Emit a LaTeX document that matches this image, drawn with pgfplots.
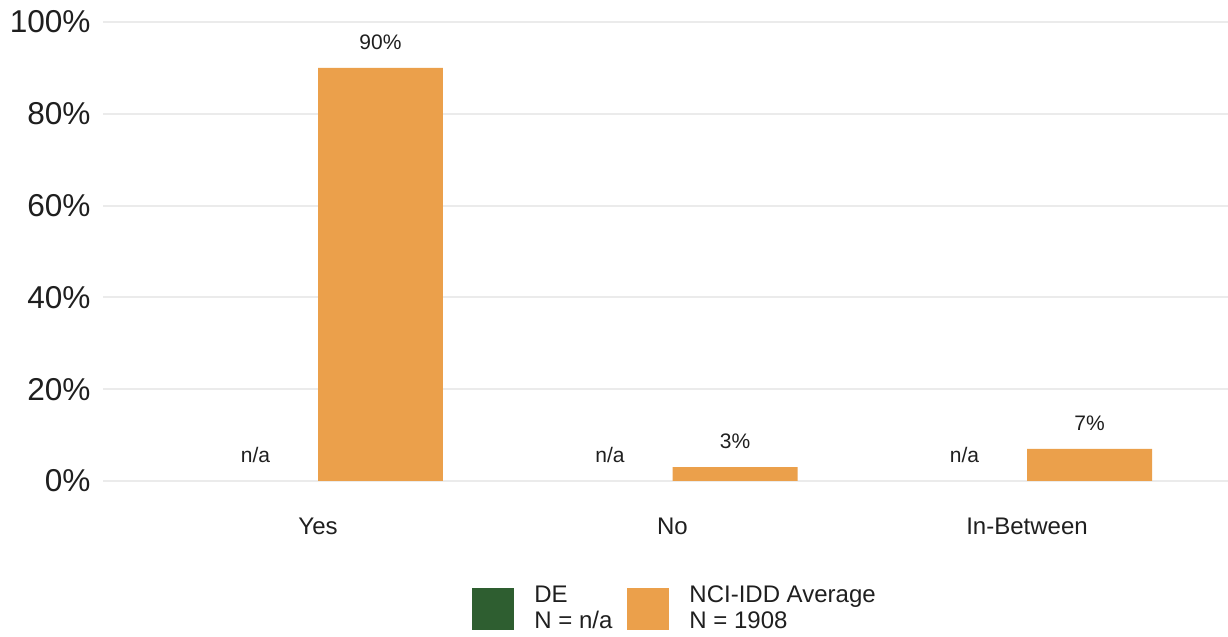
\documentclass[border=0pt]{standalone}
\usepackage{fontspec}
\setmainfont{Liberation Sans}
\usepackage{pgfplots}
\pgfplotsset{compat=1.18}
\definecolor{deGreen}{HTML}{2E5E30}
\definecolor{nciOrange}{HTML}{EBA04B}
\definecolor{gridGrey}{HTML}{EBEBEB}
\definecolor{txt}{HTML}{1F1F1F}
\pgfplotsset{sqlegend/.style={legend image code/.code={\fill[##1] (0pt,-10.5pt) rectangle (21pt,10.5pt);}},
  delegend/.style={legend image code/.code={\fill[deGreen] (0pt,-10.5pt) rectangle (21pt,10.5pt);}}}
\begin{document}
\begin{tikzpicture}
\useasboundingbox (-51.5pt,-78pt) rectangle (562.5pt,240.5pt);
\begin{axis}[
  at={(0pt,0pt)}, anchor=south west,
  width=562.5pt, height=229.5pt, scale only axis,
  xmin=-0.6065, xmax=2.567, ymin=0, ymax=100,
  ybar, bar width=0.3526,
  axis line style={draw=none},
  major tick length=0pt,
  xtick={0,1,2}, xticklabels={Yes,No,In-Between},
  ytick={0,20,...,100}, yticklabels={0\%,20\%,40\%,60\%,80\%,100\%},
  ymajorgrids, grid style={gridGrey, line width=1pt},
  xticklabel style={font=\fontsize{12}{14}\selectfont, text=txt, inner sep=0pt, anchor=north, yshift=-18.5pt},
  yticklabel style={font=\fontsize{15.8}{18}\selectfont, text=txt, inner sep=0pt, anchor=east, xshift=-6pt},
  nodes near coords, point meta=explicit symbolic,
  every node near coord/.append style={font=\fontsize{10.5}{12}\selectfont, text=txt, inner sep=0pt, anchor=south, yshift=9pt},
  clip=false,
  legend columns=2,
  legend style={at={(0.328,-0.279)}, anchor=west, draw=none, fill=none, inner sep=0pt,
    font=\fontsize{12}{13}\selectfont, text=txt, cells={align=left},
    nodes={inner sep=0pt},
    /tikz/every odd column/.append style={column sep=10pt},
    /tikz/every even column/.append style={column sep=7.5pt}},
]
% DE: no data (n/a), bars of zero height left unpainted
\addplot[draw=none, fill=none, bar shift=0pt, delegend]
  coordinates {(-0.1763,0) [n/a] (0.8237,0) [n/a] (1.8237,0) [n/a]};
% NCI-IDD Average
\addplot[draw=none, fill=nciOrange, bar shift=0pt, sqlegend]
  coordinates {(0.1763,90) [90\%] (1.1763,3) [3\%] (2.1763,7) [7\%]};
\legend{{DE\\N = n/a}, {NCI-IDD Average\\N = 1908}}
\end{axis}
\end{tikzpicture}
\end{document}
